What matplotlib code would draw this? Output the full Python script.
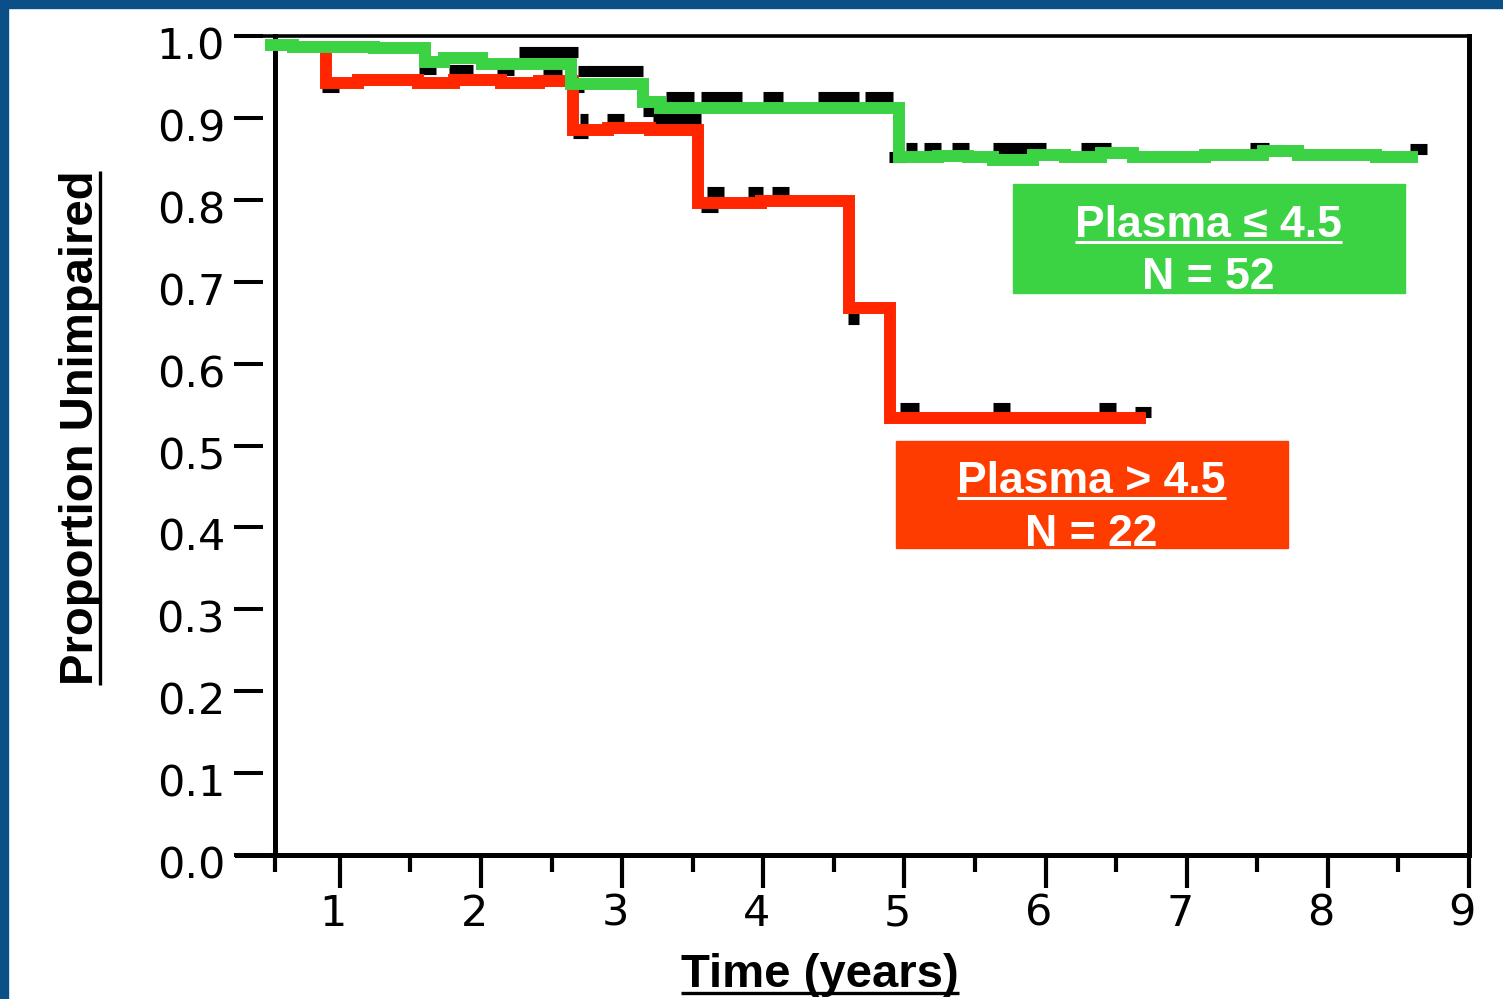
import matplotlib as mpl
import matplotlib.pyplot as plt
from matplotlib.patches import Rectangle
from matplotlib.lines import Line2D
from matplotlib.transforms import ScaledTranslation

import numpy as np

GREEN = '#3bd244'
RED_LINE = '#ff2600'
RED_BOX = '#ff3c00'
NAVY = '#0a4f88'

# Kaplan-Meier curve, plasma <= 4.5 (time in years, proportion unimpaired)
low_time = [0.47, 0.67, 1.24, 1.60, 1.74, 2.01, 2.64, 3.15, 3.27, 4.96, 5.24,
            5.45, 5.63, 5.91, 6.14, 6.39, 6.62, 7.13, 7.54, 7.79, 8.34, 8.64]
low_surv = [0.989, 0.987, 0.985, 0.968, 0.973, 0.966, 0.942, 0.920, 0.912, 0.852, 0.853,
            0.852, 0.849, 0.855, 0.852, 0.857, 0.852, 0.855, 0.860, 0.855, 0.852, 0.852]

# Kaplan-Meier curve, plasma > 4.5
high_time = [0.90, 0.90, 1.13, 1.55, 1.81, 2.14, 2.41, 2.65, 2.90, 3.20, 3.54, 3.98, 4.61, 4.90, 6.71]
high_surv = [0.982, 0.943, 0.946, 0.943, 0.946, 0.943, 0.945, 0.885, 0.888, 0.885, 0.796, 0.799,
             0.668, 0.534, 0.534]

# censored stretches (black bars under the coloured curves)
low_cens_start = [1.56, 1.77, 2.11, 2.27, 2.44, 2.69, 2.62, 3.15, 3.22, 3.31, 3.56, 4.00, 4.39,
                  4.72, 4.89, 5.01, 5.14, 5.34, 5.63, 6.25, 7.45, 8.58]
low_cens_end = [1.68, 1.94, 2.23, 2.69, 2.57, 3.15, 2.73, 3.27, 3.56, 3.51, 3.85, 4.14, 4.68,
                4.92, 5.01, 5.09, 5.26, 5.46, 6.00, 6.46, 7.58, 8.70]
low_cens_level = [0.960, 0.958, 0.958, 0.980, 0.958, 0.957, 0.938, 0.909, 0.899, 0.926, 0.926,
                  0.926, 0.926, 0.926, 0.852, 0.863, 0.863, 0.863, 0.863, 0.863, 0.863, 0.862]

high_cens_start = [0.87, 2.65, 2.70, 2.89, 3.56, 3.60, 3.89, 4.06, 4.60, 4.97, 5.63, 6.38, 6.63]
high_cens_end = [0.99, 2.76, 2.76, 3.01, 3.68, 3.72, 4.00, 4.18, 4.68, 5.10, 5.75, 6.50, 6.75]
high_cens_level = [0.938, 0.881, 0.899, 0.899, 0.791, 0.810, 0.810, 0.810, 0.655, 0.546, 0.546,
                   0.546, 0.541]

group_labels = ['Plasma \u2264 4.5', 'Plasma > 4.5']
group_n = [52, 22]

x_major = [1, 2, 3, 4, 5, 6, 7, 8, 9]
x_minor = [0.54, 1.5, 2.5, 3.5, 4.5, 5.5, 6.5, 7.5, 8.5]
y_major = np.round(np.arange(0, 1.01, 0.1), 1)

W, H = 1503, 999


def fpx(x, y):
    # pixel position (from top-left) -> figure fraction
    return x / W, 1 - y / H


fig = plt.figure(figsize=(W / 100, H / 100), dpi=100, facecolor='w')
ax = fig.add_axes([275 / W, 1 - 855 / H, (1469 - 275) / W, (855 - 36) / H])

# navy frame on the left and top edges
fig.patches.append(Rectangle((0, 0), 8 / W, 1, transform=fig.transFigure, color=NAVY, zorder=0))
fig.patches.append(Rectangle((0, 1 - 8 / H), 1, 8 / H, transform=fig.transFigure, color=NAVY, zorder=0))

ax.hlines(low_cens_level, low_cens_start, low_cens_end, colors='k', lw=8, capstyle='butt', zorder=2)
ax.hlines(high_cens_level, high_cens_start, high_cens_end, colors='k', lw=8, capstyle='butt', zorder=2)

ax.step(high_time, high_surv, where='post', color=RED_LINE, lw=8.6,
        solid_joinstyle='miter', solid_capstyle='butt', zorder=3, clip_on=False)
ax.step(low_time, low_surv, where='post', color=GREEN, lw=8.6,
        solid_joinstyle='miter', solid_capstyle='butt', zorder=4, clip_on=False)

ax.set_xlim(0.54, 9.0)
ax.set_ylim(0.0, 1.0)

# spines: the y ticks sit a little away from the drawn left edge
ax.spines['left'].set_position(('outward', 9))
ax.spines['left'].set_visible(False)
ax.axvline(0.54, color='k', lw=3.6, zorder=2.5, clip_on=False)
ax.spines['top'].set_linewidth(2.6)
ax.spines['bottom'].set_linewidth(3.6)
ax.spines['right'].set_linewidth(3.6)
ax.spines['top'].set_bounds(0.27, 9.0)
ax.spines['bottom'].set_bounds(0.27, 9.0)

ax.set_xticks(x_major)
ax.set_xticks(x_minor, minor=True)
ax.set_xticklabels([str(v) for v in x_major])
ax.set_yticks(y_major)
ax.set_yticklabels(['%.1f' % v for v in y_major])

ax.tick_params(axis='x', which='major', direction='out', length=24, width=3, labelsize=31, pad=3)
ax.tick_params(axis='x', which='minor', direction='out', length=12, width=3)
ax.tick_params(axis='y', which='major', direction='out', length=21, width=2.9, labelsize=31, pad=6)

for lbl in ax.get_xticklabels():
    lbl.set_transform(lbl.get_transform() + ScaledTranslation(-7 / 100, 0, fig.dpi_scale_trans))
for lbl in ax.get_yticklabels():
    lbl.set_transform(lbl.get_transform() + ScaledTranslation(0, -7 / 100, fig.dpi_scale_trans))

lab_font = dict(family=['Liberation Sans', 'DejaVu Sans'], weight='bold')

# group boxes: (x0, x1, y0, y1) in data units, with title/N baselines
boxes = [(5.766, 8.543, 0.6866, 0.8195, 0.755, 0.6915, GREEN),
         (4.938, 7.714, 0.3744, 0.506, 0.4415, 0.3768, RED_BOX)]

box_titles = []
for (x0, x1, y0, y1, yt, yn, col), name, n in zip(boxes, group_labels, group_n):
    ax.add_patch(Rectangle((x0, y0), x1 - x0, y1 - y0, color=col, zorder=5))
    xc = (x0 + x1) / 2
    box_titles.append(ax.text(xc, yt, name, ha='center', va='baseline', color='w',
                              fontsize=32, zorder=6, **lab_font))
    ax.text(xc, yn, 'N = %d' % n, ha='center', va='baseline', color='w',
            fontsize=32, zorder=6, **lab_font)

xlab = fig.text(*fpx(820, 987), 'Time (years)', ha='center', va='baseline', fontsize=34, **lab_font)
ylab = fig.text(*fpx(93, 428), 'Proportion Unimpaired', rotation=90, rotation_mode='anchor',
                ha='center', va='baseline', fontsize=34, **lab_font)

# underline the bold labels
fig.canvas.draw()
inv = fig.transFigure.inverted()


def underline(t, gap, lw, color, vertical=False):
    bb = t.get_window_extent()
    ax_, ay_ = t.get_transform().transform(t.get_position())
    if vertical:
        pts = inv.transform([(ax_ + gap, bb.y0), (ax_ + gap, bb.y1)])
    else:
        pts = inv.transform([(bb.x0, ay_ - gap), (bb.x1, ay_ - gap)])
    fig.add_artist(Line2D(pts[:, 0], pts[:, 1], transform=fig.transFigure,
                          color=color, lw=lw, solid_capstyle='butt', zorder=7))


underline(xlab, 6, 2.4, 'k')
underline(ylab, 7, 2.4, 'k', vertical=True)
for t in box_titles:
    underline(t, 5, 2.2, 'w')

fig.savefig('out.png', dpi=100, facecolor='w')
